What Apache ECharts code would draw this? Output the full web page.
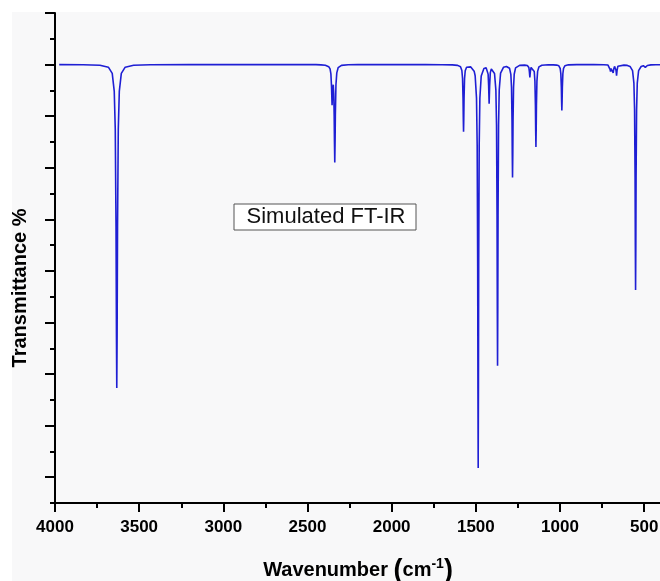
<!DOCTYPE html>
<html>
<head>
<meta charset="utf-8">
<title>Simulated FT-IR</title>
<script src="https://cdn.jsdelivr.net/npm/echarts@6/dist/echarts.min.js"></script>
<style>
  html, body { margin: 0; padding: 0; background: #fff; }
  #chart { width: 660px; height: 581px; }
</style>
</head>
<body>
<div id="chart"></div>
<script>
// spectrum, [wavenumber cm-1, transmittance]
const ohBand = [
  [3975, 100], [3833, 99.97], [3733, 99.87], [3683, 99.5], [3660, 98.3],
  [3648, 94.8], [3642, 87.5], [3637.5, 68.6], [3635, 47.6], [3633, 37.3],
  [3631, 47.6], [3628.5, 68.6], [3624, 87.5], [3618, 94.8], [3606, 98.3],
  [3583, 99.5], [3533, 99.87], [3433, 99.97], [3200, 100]
];

const co2Band = [
  [2700, 100], [2450, 100], [2420, 99.95], [2394, 99.88], [2374, 99.6],
  [2366, 99.16], [2361, 98.2], [2357.5, 95.9], [2354, 92.1], [2350.5, 95.1],
  [2347, 96.1], [2344, 94.4], [2341.5, 90.0], [2340, 85.3], [2338, 81.0],
  [2336, 85.5], [2334.5, 90.3], [2331, 96.1], [2326, 98.4], [2318, 99.4],
  [2298, 99.85], [2258, 99.96], [2200, 100], [1900, 100]
];

const fingerprint = [
  [1800, 100], [1700, 99.97], [1640, 99.94], [1608, 99.85], [1591, 99.58],
  [1583, 98.85], [1579, 97.33], [1576, 93.45], [1574.5, 89.6], [1573, 87.0],
  [1571.5, 89.6], [1570, 93.45], [1567, 97.3], [1563, 98.8], [1555, 99.49],
  [1530, 99.55], [1510, 98.73], [1504, 97.83], [1496, 93.5], [1492, 84.3],
  [1489, 60.9], [1487.5, 37.4], [1486, 21.8], [1484.5, 37.4], [1483, 60.9],
  [1480, 84.3], [1476, 93.5], [1468, 97.8], [1452, 99.25], [1439, 99.37],
  [1431, 99.01], [1427, 98.15], [1424, 95.93], [1421, 92.4], [1418, 95.9],
  [1414, 98.44], [1408, 99.13], [1398, 99.08], [1389, 98.26], [1381, 95.1],
  [1377, 88.2], [1374, 70.7], [1372.5, 53.2], [1371, 41.6], [1369.5, 53.2],
  [1368, 70.7], [1365, 88.25], [1361, 95.13], [1353, 98.34], [1336, 99.47],
  [1318, 99.64], [1300, 99.3], [1292, 98.1], [1288, 95.54], [1285, 88.97],
  [1283.5, 82.4], [1282, 78.1], [1280.5, 82.4], [1279, 88.97], [1276, 95.55],
  [1272, 98.13], [1264, 99.35], [1240, 99.84], [1210, 99.89], [1194, 99.83],
  [1185, 99.42], [1182, 98.69], [1179, 97.5], [1176, 98.65], [1172, 99.44],
  [1166, 99.6], [1161, 99.5], [1153, 98.65], [1149, 96.77], [1146, 91.97],
  [1144.5, 87.2], [1143, 84.0], [1141.5, 87.2], [1140, 91.97], [1137, 96.8],
  [1133, 98.68], [1125, 99.56], [1108, 99.88], [1070, 99.96], [1040, 99.95],
  [1020, 99.9], [1007, 99.76], [999, 99.27], [995, 98.22], [992, 95.55],
  [990.5, 92.88], [989, 91.1], [987.5, 92.88], [986, 95.55], [983, 98.22],
  [979, 99.27], [971, 99.76], [950, 99.95], [900, 100]
];

const lowRegion = [
  [800, 99.99], [740, 99.97], [715, 99.91], [706, 99.69], [702, 99.03],
  [700, 98.62], [697, 99.24], [692, 99.61], [687, 99.13], [684, 98.39],
  [681, 99.13], [676, 99.65], [670, 99.47], [667, 98.87], [664, 97.83],
  [661, 98.89], [656, 99.69], [645, 99.9], [620, 99.9], [600, 99.84],
  [584, 99.64], [569, 98.82], [561, 96.39], [557, 91.26], [554, 78.15],
  [552.5, 65], [551, 56.3], [549.5, 65], [548, 78.15], [545, 91.26],
  [541, 96.39], [533, 98.82], [518, 99.63], [505, 99.78], [496, 99.7],
  [493, 99.45], [490, 99.1], [487, 99.5], [481, 99.82], [460, 99.94],
  [430, 99.97], [400, 99.98]
];

const xMajorTicks = [4000, 3500, 3000, 2500, 2000, 1500, 1000, 500];
const xMinorTicks = [3750, 3250, 2750, 2250, 1750, 1250, 750];
const yMajorTicks = [20, 30, 40, 50, 60, 70, 80, 90, 100, 110];
const yMinorTicks = [15, 25, 35, 45, 55, 65, 75, 85, 95, 105];

const spectrum = ohBand.concat(co2Band, fingerprint, lowRegion);

const FONT = "'Liberation Sans', Arial, sans-serif";
const axisLineStyle = { color: "#000", width: 2 };

const chart = echarts.init(document.getElementById("chart"), null, {
  renderer: "canvas",
});

const option = {
  animation: false,
  backgroundColor: "#ffffff",
  grid: {
    left: 55,
    top: 13,
    width: 606,
    height: 490,
    containLabel: false,
    outerBoundsMode: "none",
  },
  xAxis: [
    {
      type: "value",
      min: 400,
      max: 4000,
      inverse: true,
      position: "bottom",
      axisLine: { onZero: false, lineStyle: axisLineStyle },
      axisTick: { customValues: xMajorTicks, length: 9, lineStyle: axisLineStyle },
      axisLabel: {
        customValues: xMajorTicks,
        formatter: (v) => String(v),
        margin: 16,
        color: "#000",
        fontSize: 17,
        fontWeight: "bold",
        fontFamily: FONT,
      },
      splitLine: { show: false },
      name: "Wavenumber {p|(}cm{s|-1}{p|)}",
      nameLocation: "middle",
      nameGap: 54,
      nameTextStyle: {
        color: "#000",
        fontSize: 20,
        fontWeight: "bold",
        fontFamily: FONT,
        rich: {
          p: { fontSize: 27, fontWeight: "bold", fontFamily: FONT, color: "#000" },
          s: {
            fontSize: 14,
            lineHeight: 8,
            fontWeight: "bold",
            fontFamily: FONT,
            color: "#000",
            verticalAlign: "top",
          },
        },
      },
    },
    {
      type: "value",
      min: 400,
      max: 4000,
      inverse: true,
      position: "bottom",
      axisLine: { show: false, onZero: false },
      axisTick: { customValues: xMinorTicks, length: 5, lineStyle: axisLineStyle },
      axisLabel: { show: false },
      splitLine: { show: false },
    },
  ],
  yAxis: [
    {
      type: "value",
      min: 15,
      max: 110,
      position: "left",
      axisLine: { show: true, onZero: false, lineStyle: axisLineStyle },
      axisTick: { customValues: yMajorTicks, length: 10, lineStyle: axisLineStyle },
      axisLabel: { show: false },
      splitLine: { show: false },
      name: "Transmittance %",
      nameLocation: "middle",
      nameGap: 25,
      nameTextStyle: {
        color: "#000",
        fontSize: 20,
        fontWeight: "bold",
        fontFamily: FONT,
        padding: [0, 60, 0, 0],
      },
    },
    {
      type: "value",
      min: 15,
      max: 110,
      position: "left",
      axisLine: { show: false, onZero: false },
      axisTick: { customValues: yMinorTicks, length: 5, lineStyle: axisLineStyle },
      axisLabel: { show: false },
      splitLine: { show: false },
    },
  ],
  graphic: [
    {
      type: "rect",
      z: -10,
      silent: true,
      shape: { x: 12, y: 12, width: 648, height: 569 },
      style: { fill: "#f8f8f9" },
    },
    {
      type: "rect",
      z: 10,
      silent: true,
      shape: { x: 234, y: 204, width: 182, height: 26 },
      style: { fill: "#ffffff", stroke: "#555", lineWidth: 1 },
    },
    {
      type: "text",
      z: 11,
      silent: true,
      x: 326,
      y: 217,
      style: {
        text: "Simulated FT-IR",
        fill: "#111",
        font: "22px " + FONT,
        textAlign: "center",
        textVerticalAlign: "middle",
      },
    },
  ],
  series: [
    {
      type: "line",
      xAxisIndex: 0,
      yAxisIndex: 0,
      data: spectrum,
      showSymbol: false,
      symbol: "none",
      silent: true,
      z: 3,
      lineStyle: { color: "#1f1fd4", width: 1.6 },
      itemStyle: { color: "#1f1fd4" },
    },
  ],
};

chart.setOption(option);
</script>
</body>
</html>
